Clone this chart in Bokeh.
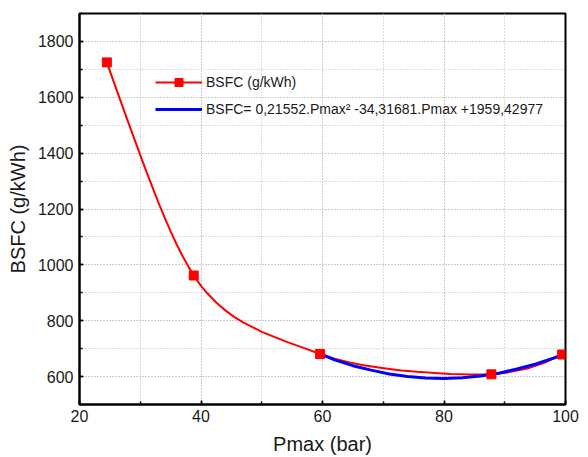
from bokeh.plotting import figure
from bokeh.models import Legend, LegendItem, SingleIntervalTicker, Range1d
from bokeh.embed import file_html
from bokeh.resources import INLINE

# Measured points (Pmax in bar, BSFC in g/kWh)
pmax = [24.5, 38.8, 59.6, 87.8, 99.45]
bsfc = [1725, 962, 681, 608, 679]

# Smooth connecting line
curve_x = [24.5, 26, 28, 30, 31, 32, 33, 34, 35, 36, 37, 38, 38.8, 40, 41, 42.5,
           44, 45.5, 47, 50, 54, 57, 59.6, 62, 64.6, 67, 70.1, 73, 75.6, 78.5,
           81.1, 84.5, 87.8, 90.5, 93.7, 96.5, 99.45]
curve_y = [1725, 1633, 1512, 1393, 1335, 1278, 1223, 1170, 1120, 1073, 1030, 991,
           962, 925, 899, 865, 837, 813, 793, 760, 725, 702, 681, 664, 650, 640,
           630, 622, 617, 613, 609, 607, 608, 615, 629, 649, 679]

# Quadratic fit curve
fit_x = [59.6, 62, 65, 68, 71, 74, 77, 80, 83, 86, 89, 92, 95, 98, 99.45]
fit_y = [681, 660, 639, 623, 609, 600, 595, 593, 596, 602, 612, 627, 644, 666, 678]

legend_labels = ["BSFC (g/kWh)", "BSFC= 0,21552.Pmax\u00b2 -34,31681.Pmax +1959,42977"]

FONT = "Liberation Sans"

p = figure(width=588, height=457, output_backend="svg", toolbar_location=None,
           x_range=Range1d(20, 100), y_range=Range1d(500, 1900),
           min_border_left=79, min_border_right=23, min_border_top=13,
           min_border_bottom=51, title=None)

p.outline_line_color = "black"
p.outline_line_width = 2
p.background_fill_color = "white"
p.border_fill_color = "white"

p.xaxis.ticker = SingleIntervalTicker(interval=20, num_minor_ticks=2)
p.yaxis.ticker = SingleIntervalTicker(interval=200, num_minor_ticks=2)

for ax in (p.xaxis[0], p.yaxis[0]):
    ax.axis_line_color = "black"
    ax.axis_line_width = 2
    ax.major_tick_in = 4
    ax.major_tick_out = 0
    ax.minor_tick_in = 3
    ax.minor_tick_out = 0
    ax.major_tick_line_width = 1.5
    ax.minor_tick_line_width = 1.5
    ax.major_label_text_font = FONT
    ax.major_label_text_font_size = "16px"
    ax.major_label_text_color = "#1a1a1a"
    ax.axis_label_text_font = FONT
    ax.axis_label_text_font_size = "20px"
    ax.axis_label_text_font_style = "normal"
    ax.axis_label_text_color = "#1a1a1a"

p.xaxis.axis_label = "Pmax (bar)"
p.yaxis.axis_label = "BSFC (g/kWh)"
p.xaxis.major_label_standoff = 5
p.yaxis.major_label_standoff = 6
p.xaxis.axis_label_standoff = 8
p.yaxis.axis_label_standoff = 6

for g in (p.xgrid[0], p.ygrid[0]):
    g.grid_line_color = "#bdbdbd"
    g.grid_line_dash = "1 2"
    g.grid_line_width = 1
    g.minor_grid_line_color = "#bdbdbd"
    g.minor_grid_line_dash = "1 2"
    g.minor_grid_line_width = 1

r_line = p.line(curve_x, curve_y, line_color="#ff0000", line_width=2,
                line_join="round")
b_line = p.line(fit_x, fit_y, line_color="#0000ff", line_width=3,
                line_join="round")
r_pts = p.scatter(pmax, bsfc, marker="square", size=9, fill_color="#ff0000",
                  line_color="#ff0000")

legend = Legend(items=[LegendItem(label=legend_labels[0], renderers=[r_line, r_pts]),
                       LegendItem(label=legend_labels[1], renderers=[b_line])],
                location=(76, 285), padding=0, margin=0, spacing=7,
                glyph_width=47, glyph_height=20, label_height=20, label_standoff=4,
                border_line_alpha=0, background_fill_alpha=0,
                label_text_font=FONT, label_text_font_size="14px",
                label_text_color="#1a1a1a")
p.add_layout(legend)

open("out.html", "w").write(file_html(p, INLINE))
